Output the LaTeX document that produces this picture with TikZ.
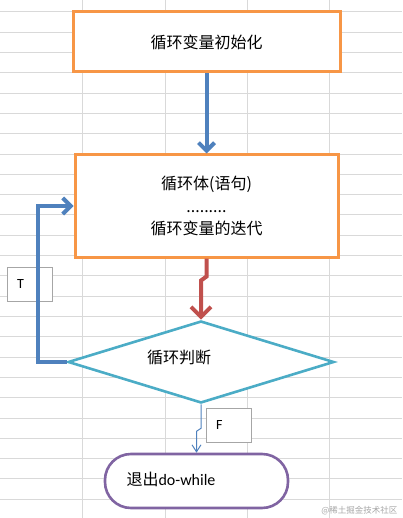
\documentclass[tikz,border=0pt]{standalone}
\usepackage{fontspec}
\setmainfont{Carlito}
\newfontfamily\cjk{Noto Sans CJK SC}
\usetikzlibrary{shapes.geometric, arrows.meta}

\definecolor{boxorange}{HTML}{F79646}
\definecolor{flowblue}{HTML}{4F81BD}
\definecolor{flowred}{HTML}{C0504D}
\definecolor{flowteal}{HTML}{4BACC6}
\definecolor{flowpurple}{HTML}{8064A2}
\definecolor{gridgray}{HTML}{D9D9D9}
\definecolor{taggray}{HTML}{A6A6A6}

\begin{document}
\begin{tikzpicture}[x=1pt, y=-1pt,
  flowbox/.style={draw=boxorange, line width=3pt, fill=white, inner sep=0pt,
    font=\cjk\fontsize{16}{22.5}\selectfont, align=center},
  decision/.style={diamond, draw=flowteal, line width=2.6pt, fill=white, inner sep=0pt,
    minimum width=266pt, minimum height=82pt},
  terminal/.style={draw=flowpurple, line width=2.6pt, fill=white, rounded corners=26pt,
    minimum width=183pt, minimum height=54pt},
  tagbox/.style={draw=taggray, line width=0.8pt, fill=white, inner xsep=10pt,
    text width=25pt, align=left, minimum height=34pt, font=\fontsize{14}{16}\selectfont},
  thick arrow/.style={line width=4pt, -{Straight Barb[length=8pt, width=16pt]}},
  thin arrow/.style={line width=1pt, draw=flowblue, -{Straight Barb[length=7pt, width=9pt]}},
]

\useasboundingbox (0,0) rectangle (402,518);

% sheet grid
\foreach \k in {0,...,24}
  \draw[gridgray, line width=1pt] (0,12+20.3*\k) -- (402,12+20.3*\k);
\foreach \x in {82,165,247,329}
  \draw[gridgray, line width=1pt] (\x,0) -- (\x,518);

\node[flowbox, minimum width=267pt, minimum height=60pt] (init) at (206.5, 42) {循环变量初始化};

\node[flowbox, minimum width=263pt, minimum height=102pt] (body) at (206.5, 206)
  {循环体(语句)\\.........\\循环变量的迭代};

\node[decision] (judge) at (201, 362) {};
\node[font=\cjk\fontsize{16}{18}\selectfont] (judgetext) at (179, 357) {循环判断};

\node[terminal] (exit) at (196.5, 481) {};
\node[font=\fontsize{16}{18}\selectfont] (exittext) at (171, 479) {\cjk 退出\rmfamily do-while};

\node[tagbox] (true) at (29.5, 284) {T};
\node[tagbox] (false) at (228.5, 425.5) {F};

\draw[thick arrow, flowblue] (init.south) -- (body.north);

\draw[line width=4pt, flowred, -{Straight Barb[length=10pt, width=20pt]}]
  (body.south) -- ++(0,18) -- ++(-5.5,4) -- (judge.north);

\draw[thick arrow, flowblue] (judge.west) -- (38,362) |- (body.west);

\draw[thin arrow] (judge.south) -- ++(0,24) -- ++(-4.5,3) -- (exit.north);

\node[anchor=east, text=gray!70, font=\cjk\fontsize{8.5}{10}\selectfont] (mark) at (401, 511) {@稀土掘金技术社区};

\end{tikzpicture}
\end{document}
